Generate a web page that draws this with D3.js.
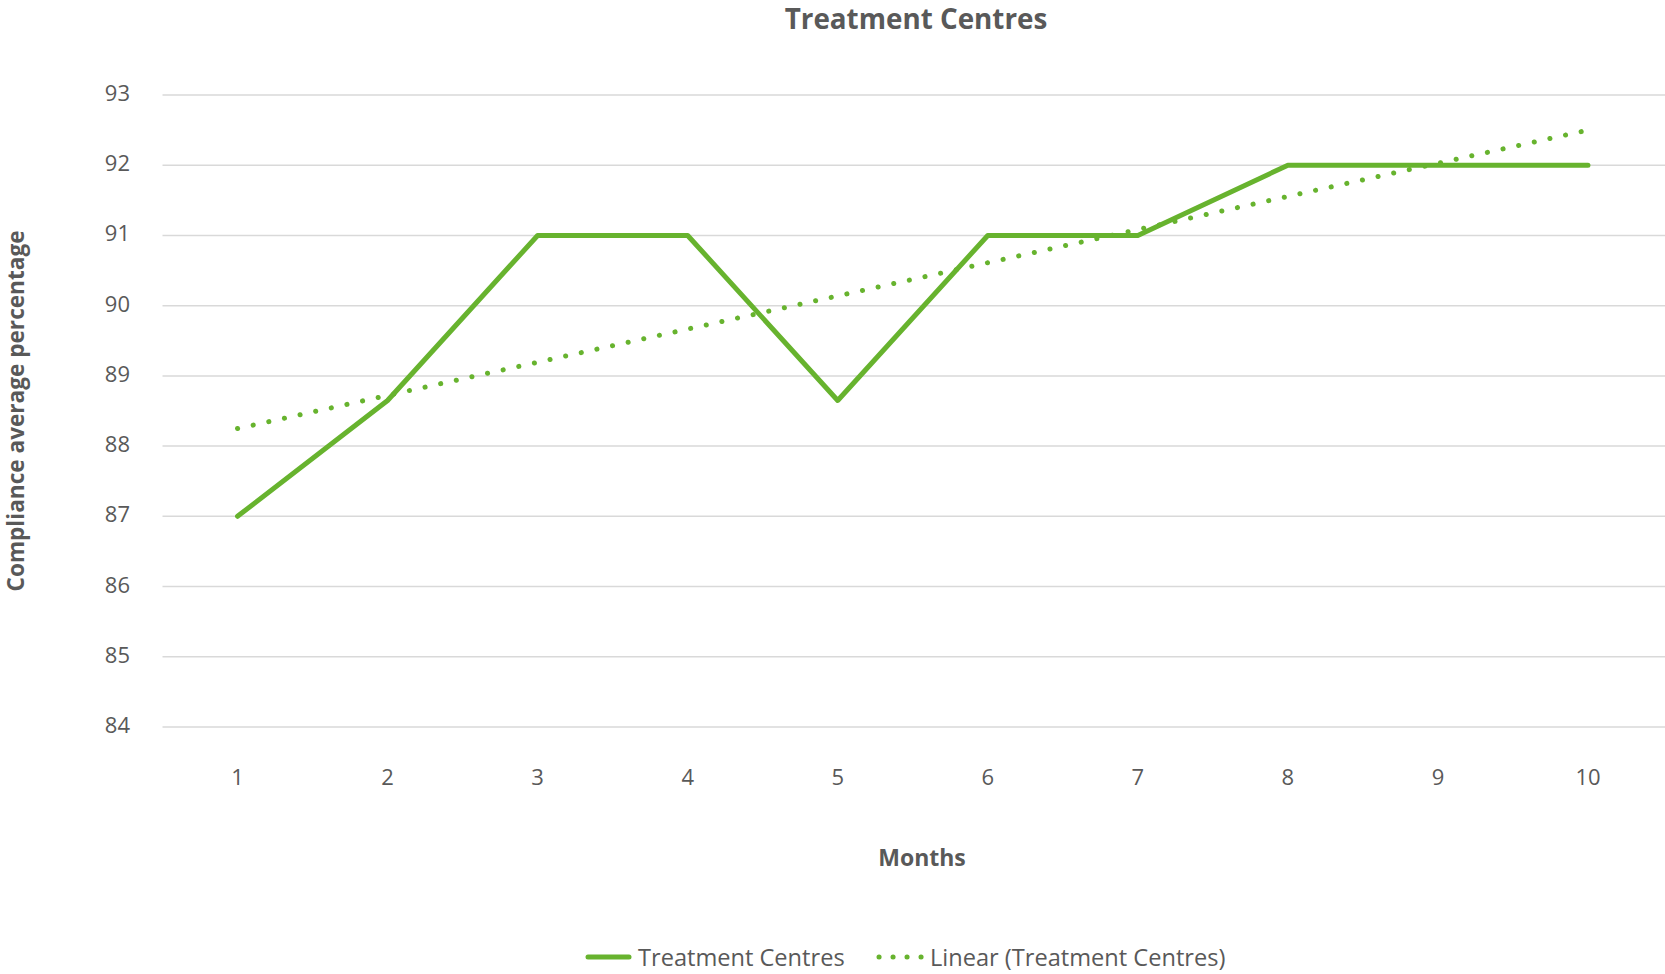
<!DOCTYPE html>
<html>
<head>
<meta charset="utf-8">
<script src="https://d3js.org/d3.v7.min.js"></script>
<style>
  body { margin: 0; background: #fff; }
  svg text { font-family: "Open Sans", "Noto Sans", sans-serif; fill: #595959; }
</style>
</head>
<body>
<script>
// chart values
var months = [1, 2, 3, 4, 5, 6, 7, 8, 9, 10];
var compliance = [87, 88.65, 91, 91, 88.65, 91, 91, 92, 92, 92];
var yTicks = [84, 85, 86, 87, 88, 89, 90, 91, 92, 93];
// linear trend, start and end values
var trendMonths = [1, 10];
var trendValues = [88.25, 92.5];

var width = 1665, height = 974;
var green = "#67b32e";

var svg = d3.select("body").append("svg")
  .attr("width", width)
  .attr("height", height);

var x = d3.scalePoint()
  .domain(months)
  .range([162.5, 1663])
  .padding(0.5);

var y = d3.scaleLinear()
  .domain([84, 93])
  .range([727, 95]);

// gridlines
svg.append("g")
  .selectAll("line")
  .data(yTicks)
  .enter().append("line")
  .attr("x1", 162.5)
  .attr("x2", 1665)
  .attr("y1", function(d){ return y(d); })
  .attr("y2", function(d){ return y(d); })
  .style("stroke", "#d9d9d9")
  .style("stroke-width", 1.5);

// y tick labels
svg.append("g")
  .selectAll("text")
  .data(yTicks)
  .enter().append("text")
  .attr("x", 130)
  .attr("y", function(d){ return y(d) - 3; })
  .attr("text-anchor", "end")
  .attr("dominant-baseline", "central")
  .attr("font-size", "22px")
  .text(function(d){ return d; });

// x tick labels
svg.append("g")
  .selectAll("text")
  .data(months)
  .enter().append("text")
  .attr("x", function(d){ return x(d); })
  .attr("y", 776)
  .attr("text-anchor", "middle")
  .attr("dominant-baseline", "central")
  .attr("font-size", "22px")
  .text(function(d){ return d; });

// trend line (dotted)
var trend = trendMonths.map(function(m, i){ return [m, trendValues[i]]; });
svg.append("path")
  .datum(trend)
  .attr("d", d3.line()
    .x(function(d){ return x(d[0]); })
    .y(function(d){ return y(d[1]); }))
  .style("fill", "none")
  .style("stroke", green)
  .style("stroke-width", 5)
  .style("stroke-linecap", "round")
  .style("stroke-dasharray", "0.1 15.9");

// main series
var series = months.map(function(m, i){ return [m, compliance[i]]; });
svg.append("path")
  .datum(series)
  .attr("d", d3.line()
    .x(function(d){ return x(d[0]); })
    .y(function(d){ return y(d[1]); }))
  .style("fill", "none")
  .style("stroke", green)
  .style("stroke-width", 5)
  .style("stroke-linejoin", "round")
  .style("stroke-linecap", "round");

// title
svg.append("text")
  .attr("x", 916)
  .attr("y", 18)
  .attr("text-anchor", "middle")
  .attr("dominant-baseline", "central")
  .attr("font-size", "27.8px")
  .attr("font-weight", "bold")
  .text("Treatment Centres");

// axis titles
svg.append("text")
  .attr("x", 922)
  .attr("y", 857)
  .attr("text-anchor", "middle")
  .attr("dominant-baseline", "central")
  .attr("font-size", "23px")
  .attr("font-weight", "bold")
  .text("Months");

svg.append("text")
  .attr("transform", "translate(15,411) rotate(-90)")
  .attr("text-anchor", "middle")
  .attr("dominant-baseline", "central")
  .attr("font-size", "22.6px")
  .attr("font-weight", "bold")
  .text("Compliance average percentage");

// legend
var ly = 957;
svg.append("line")
  .attr("x1", 588).attr("x2", 629)
  .attr("y1", ly).attr("y2", ly)
  .style("stroke", green)
  .style("stroke-width", 5)
  .style("stroke-linecap", "round");
svg.append("text")
  .attr("x", 638).attr("y", ly)
  .attr("dominant-baseline", "central")
  .attr("font-size", "23.6px")
  .text("Treatment Centres");

svg.append("line")
  .attr("x1", 879).attr("x2", 922)
  .attr("y1", ly).attr("y2", ly)
  .style("stroke", green)
  .style("stroke-width", 5)
  .style("stroke-linecap", "round")
  .style("stroke-dasharray", "0.1 13.9");
svg.append("text")
  .attr("x", 930).attr("y", ly)
  .attr("dominant-baseline", "central")
  .attr("font-size", "23.6px")
  .text("Linear (Treatment Centres)");
</script>
</body>
</html>
